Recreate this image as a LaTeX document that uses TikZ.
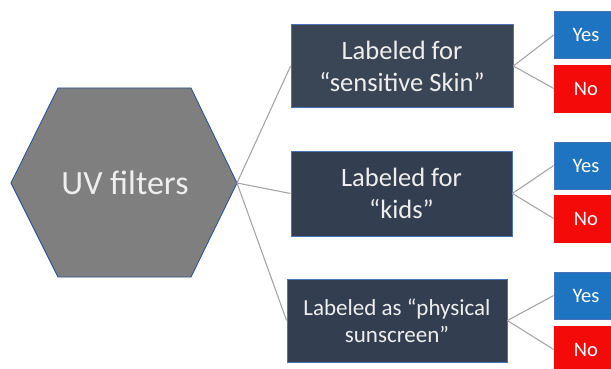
\documentclass[tikz,border=0pt]{standalone}
\usepackage{fontspec}
\setmainfont{Carlito}
\definecolor{hexfill}{HTML}{7F7F7F}
\definecolor{hexline}{HTML}{2F5597}
\definecolor{boxfill}{HTML}{333F50}
\definecolor{boxfillA}{HTML}{3A4656}
\definecolor{boxline}{HTML}{4A72B8}
\definecolor{yesfill}{HTML}{1F74C2}
\definecolor{nofill}{HTML}{F50A0A}
\definecolor{linkc}{HTML}{A6A6A6}
\definecolor{txt}{HTML}{EEEEEE}
\begin{document}
\begin{tikzpicture}[x=1pt,y=-1pt,
  qbox/.style={draw=boxline, line width=0.8pt, fill=boxfill, text=txt, align=center, inner sep=0pt, anchor=center},
  ansbox/.style={draw=boxline, line width=0.6pt, text=white, minimum width=64pt, minimum height=47pt, inner sep=0pt, font=\fontsize{20.5}{24}\selectfont},
  yesbox/.style={ansbox, fill=yesfill},
  nobox/.style={ansbox, fill=nofill, draw=nofill},
  link/.style={draw=linkc, line width=1.1pt}]
\useasboundingbox (0,0) rectangle (611,369);
\clip (0,0) rectangle (611,369);
\fill[white] (0,0) rectangle (611,369);
% hexagon
\coordinate (hL) at (11,183);
\coordinate (hTL) at (58,88);
\coordinate (hTR) at (191,88);
\coordinate (hR) at (237,183);
\coordinate (hBR) at (191,277);
\coordinate (hBL) at (58,277);
\draw[fill=hexfill, draw=hexline, line width=0.9pt] (hL) -- (hTL) -- (hTR) -- (hR) -- (hBR) -- (hBL) -- cycle;
\node[text=txt, font=\fontsize{34}{40}\selectfont] (uv) at (125,183) {UV filters};
% question boxes
\node[qbox, fill=boxfillA, minimum width=222pt, minimum height=83pt, font=\fontsize{26.5}{32}\selectfont] (q1) at (402,66) {Labeled for\\``sensitive Skin''};
\node[qbox, minimum width=221pt, minimum height=85pt, font=\fontsize{26.5}{32}\selectfont] (q2) at (401.5,193.5) {Labeled for\\``kids''};
\node[qbox, minimum width=220pt, minimum height=83pt, font=\fontsize{23}{27}\selectfont] (q3) at (397,320.5) {Labeled as ``physical\\sunscreen''};
% answers
\node[yesbox] (y1) at (586,35) {Yes};
\node[nobox] (n1) at (586,88.5) {No};
\node[yesbox] (y2) at (586,165.5) {Yes};
\node[nobox] (n2) at (586,218.5) {No};
\node[yesbox] (y3) at (586,295.5) {Yes};
\node[nobox] (n3) at (586,349.5) {No};
% connectors
\draw[link] (hR) -- (q1.west);
\draw[link] (hR) -- (q2.west);
\draw[link] (hR) -- (q3.west);
\draw[link] (q1.east) -- (y1.west);
\draw[link] (q1.east) -- (n1.west);
\draw[link] (q2.east) -- (y2.west);
\draw[link] (q2.east) -- (n2.west);
\draw[link] (q3.east) -- (y3.west);
\draw[link] (q3.east) -- (n3.west);
\end{tikzpicture}
\end{document}
